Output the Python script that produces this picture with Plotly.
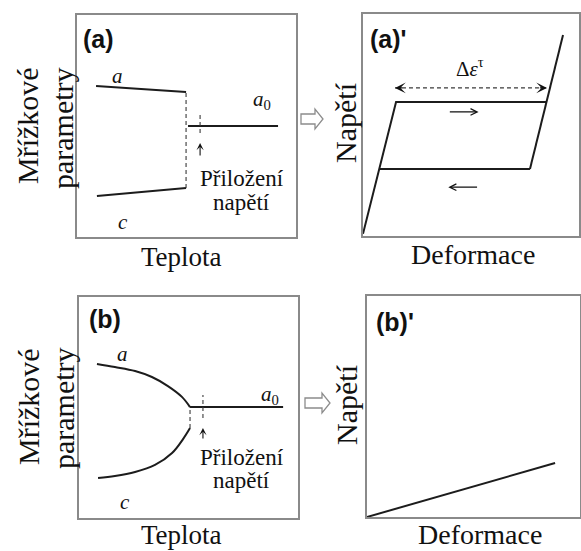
import plotly.graph_objects as go

W, H = 581, 551

# ---------------- data ----------------
# Panel (a): lattice parameters vs temperature (first-order transition)
a1_T = [0.87, 4.98]
a1_val = [6.80, 6.53]
c1_T = [0.91, 4.98]
c1_val = [1.85, 2.21]
a01_T = [5.07, 9.18]
a01_val = [5.00, 5.00]
jump1_T = [4.98, 4.98]
jump1_val = [2.21, 6.53]
apply1_T = [5.62, 5.62]
apply1_val = [4.68, 5.59]

# Panel (a)': stress-strain loop
load_strain = [0.0, 1.53, 8.50]
load_stress = [0.10, 6.04, 6.04]
right_strain = [7.73, 9.26]
right_stress = [3.02, 9.05]
unload_strain = [0.78, 7.73]
unload_stress = [3.02, 3.02]
de_strain = [1.48, 8.52]
de_stress = [6.67, 6.67]

# Panel (b): lattice parameters vs temperature (continuous)
a2_T = [0.82, 1.64, 2.56, 3.33, 4.06, 4.70, 5.07]
a2_val = [6.97, 6.83, 6.65, 6.38, 5.97, 5.48, 5.02]
c2_T = [0.87, 1.64, 2.56, 3.47, 4.25, 4.75, 5.07]
c2_val = [1.81, 1.90, 2.08, 2.40, 2.94, 3.57, 4.07]
a02_T = [5.07, 9.32]
a02_val = [5.02, 5.02]
jump2_T = [5.07, 5.07]
jump2_val = [4.07, 5.02]
apply2_T = [5.66, 5.66]
apply2_val = [4.52, 5.57]

# Panel (b)': linear stress-strain
lin_strain = [0.0, 8.83]
lin_stress = [0.0, 2.44]

# ---------------- layout helpers ----------------
def px(x):
    return x / W

def py(y):
    return 1 - y / H

# panel frames in pixels: (left, right, top, bottom)
frames = {
    "1": (77, 296, 15, 237),
    "2": (363, 579, 14, 236),
    "3": (79, 298, 297, 518),
    "4": (367, 580, 296, 517),
}

LINE = "#1c1c1c"
FRAME = "#8a8a8a"
DASH = "#3a3a3a"
SERIF = "Liberation Serif, Times New Roman, serif"
SANS = "Liberation Sans, Arial, sans-serif"

fig = go.Figure()

def add_line(x, y, ax, dash=None, width=2.0, color=LINE, shape="linear"):
    fig.add_trace(go.Scatter(
        x=x, y=y, mode="lines", xaxis="x" + ax, yaxis="y" + ax,
        line=dict(color=color, width=width, dash=dash, shape=shape),
        hoverinfo="skip", showlegend=False))

# panel (a)
add_line(a1_T, a1_val, "1")
add_line(c1_T, c1_val, "1")
add_line(a01_T, a01_val, "1")
add_line(jump1_T, jump1_val, "1", dash="4px,3px", width=1.1, color=DASH)
add_line(apply1_T, apply1_val, "1", dash="4px,3px", width=1.1, color=DASH)

# panel (a)'
add_line(load_strain, load_stress, "2")
add_line(right_strain, right_stress, "2")
add_line(unload_strain, unload_stress, "2")
add_line(de_strain, de_stress, "2", dash="4px,3px", width=1.2, color=DASH)

# panel (b)
add_line(a2_T, a2_val, "3", shape="spline")
add_line(c2_T, c2_val, "3", shape="spline")
add_line(a02_T, a02_val, "3")
add_line(jump2_T, jump2_val, "3", dash="4px,3px", width=1.1, color=DASH)
add_line(apply2_T, apply2_val, "3", dash="4px,3px", width=1.1, color=DASH)

# panel (b)'
add_line(lin_strain, lin_stress, "4")

layout = dict(
    width=W, height=H, margin=dict(l=0, r=0, t=0, b=0),
    paper_bgcolor="white", plot_bgcolor="white", showlegend=False,
)
for k, (l, r, t, b) in frames.items():
    name = "" if k == "1" else k
    common = dict(range=[0, 10], showticklabels=False, showgrid=False,
                  zeroline=False, ticks="", showline=True, mirror=True,
                  linecolor=FRAME, linewidth=1.5, fixedrange=True)
    layout["xaxis" + name] = dict(domain=[px(l), px(r)], anchor="y" + k, **common)
    layout["yaxis" + name] = dict(domain=[py(b), py(t)], anchor="x" + k, **common)
fig.update_layout(**layout)

ann = []

def text(x, y, s, size, ref=None, font=SERIF, angle=0, xanchor="center",
         color="#111"):
    d = dict(text=s, x=x, y=y, showarrow=False, textangle=angle,
             xanchor=xanchor, yanchor="middle",
             font=dict(family=font, size=size, color=color))
    if ref is None:
        d.update(xref="paper", yref="paper")
    else:
        d.update(xref="x" + ref, yref="y" + ref)
    ann.append(d)

# axis titles (paper)
text(px(181), py(257), "Teplota", 27)
text(px(181), py(535), "Teplota", 27)
text(px(28), py(126), "Mřížkové", 30, angle=-90)
text(px(62), py(128), "parametry", 30, angle=-90)
text(px(28), py(407), "Mřížkové", 30, angle=-90)
text(px(63), py(408), "parametry", 30, angle=-90)
text(px(346), py(123), "Napětí", 30, angle=-90)
text(px(346), py(405), "Napětí", 30, angle=-90)
text(px(473), py(255), "Deformace", 28)
text(px(480), py(534), "Deformace", 28)

# panel tags
text(px(81), py(39), "<b>(a)</b>", 25, font=SANS, xanchor="left")
text(px(368), py(39), "<b>(a)'</b>", 25, font=SANS, xanchor="left")
text(px(87), py(319), "<b>(b)</b>", 25, font=SANS, xanchor="left")
text(px(374), py(322), "<b>(b)'</b>", 25, font=SANS, xanchor="left")

# in-panel labels
text(1.87, 7.25, "<i>a</i>", 21, ref="1")
text(2.10, 0.68, "<i>c</i>", 21, ref="1")
text(8.45, 6.17, "<i>a</i><sub>0</sub>", 21, ref="1")
text(7.53, 2.62, "Přiložení", 23, ref="1")
text(7.53, 1.55, "napětí", 23, ref="1")

text(2.00, 7.42, "<i>a</i>", 21, ref="3")
text(2.10, 0.72, "<i>c</i>", 21, ref="3")
text(8.72, 5.57, "<i>a</i><sub>0</sub>", 21, ref="3")
text(7.44, 2.76, "Přiložení", 23, ref="3")
text(7.44, 1.69, "napětí", 23, ref="3")

text(4.95, 7.60, "Δ<i>ε</i><sup>τ</sup>", 21, ref="2")

# arrows
def arrow(x, y, axv, ayv, ref, head=3, size=1.0, width=1.2, color="#111"):
    ann.append(dict(x=x, y=y, ax=axv, ay=ayv, xref="x" + ref, yref="y" + ref,
                    axref="x" + ref, ayref="y" + ref, text="", showarrow=True,
                    arrowhead=head, arrowsize=size, arrowwidth=width,
                    arrowcolor=color))

# "apply stress" arrows
arrow(5.62, 4.23, 5.62, 3.60, "1", head=3, size=1.1, width=1.1)
arrow(5.66, 4.07, 5.66, 3.53, "3", head=3, size=1.1, width=1.1)
# Δε arrowheads
arrow(de_strain[1], 6.67, de_strain[1] - 0.4, 6.67, "2", head=3, size=1.5, width=1.2)
arrow(de_strain[0], 6.67, de_strain[0] + 0.4, 6.67, "2", head=3, size=1.5, width=1.2)
# direction arrows
arrow(5.35, 5.59, 3.95, 5.59, "2", head=5, size=1.0, width=1.3)
arrow(3.95, 2.20, 5.35, 2.20, "2", head=5, size=1.0, width=1.3)

fig.update_layout(annotations=ann)

# hollow block arrows between panels
def block_arrow(x0, x1, xm, yc, hs, hh):
    p = (f"M {px(x0)},{py(yc - hs)} L {px(xm)},{py(yc - hs)} L {px(xm)},{py(yc - hh)} "
         f"L {px(x1)},{py(yc)} L {px(xm)},{py(yc + hh)} L {px(xm)},{py(yc + hs)} "
         f"L {px(x0)},{py(yc + hs)} Z")
    return dict(type="path", xref="paper", yref="paper", path=p,
                line=dict(color="#8c8c8c", width=1.3), fillcolor="white")

fig.update_layout(shapes=[
    block_arrow(301, 323, 315, 119, 5, 10),
    block_arrow(305, 330, 322, 403, 5, 10),
])

fig.write_html("out.html")
